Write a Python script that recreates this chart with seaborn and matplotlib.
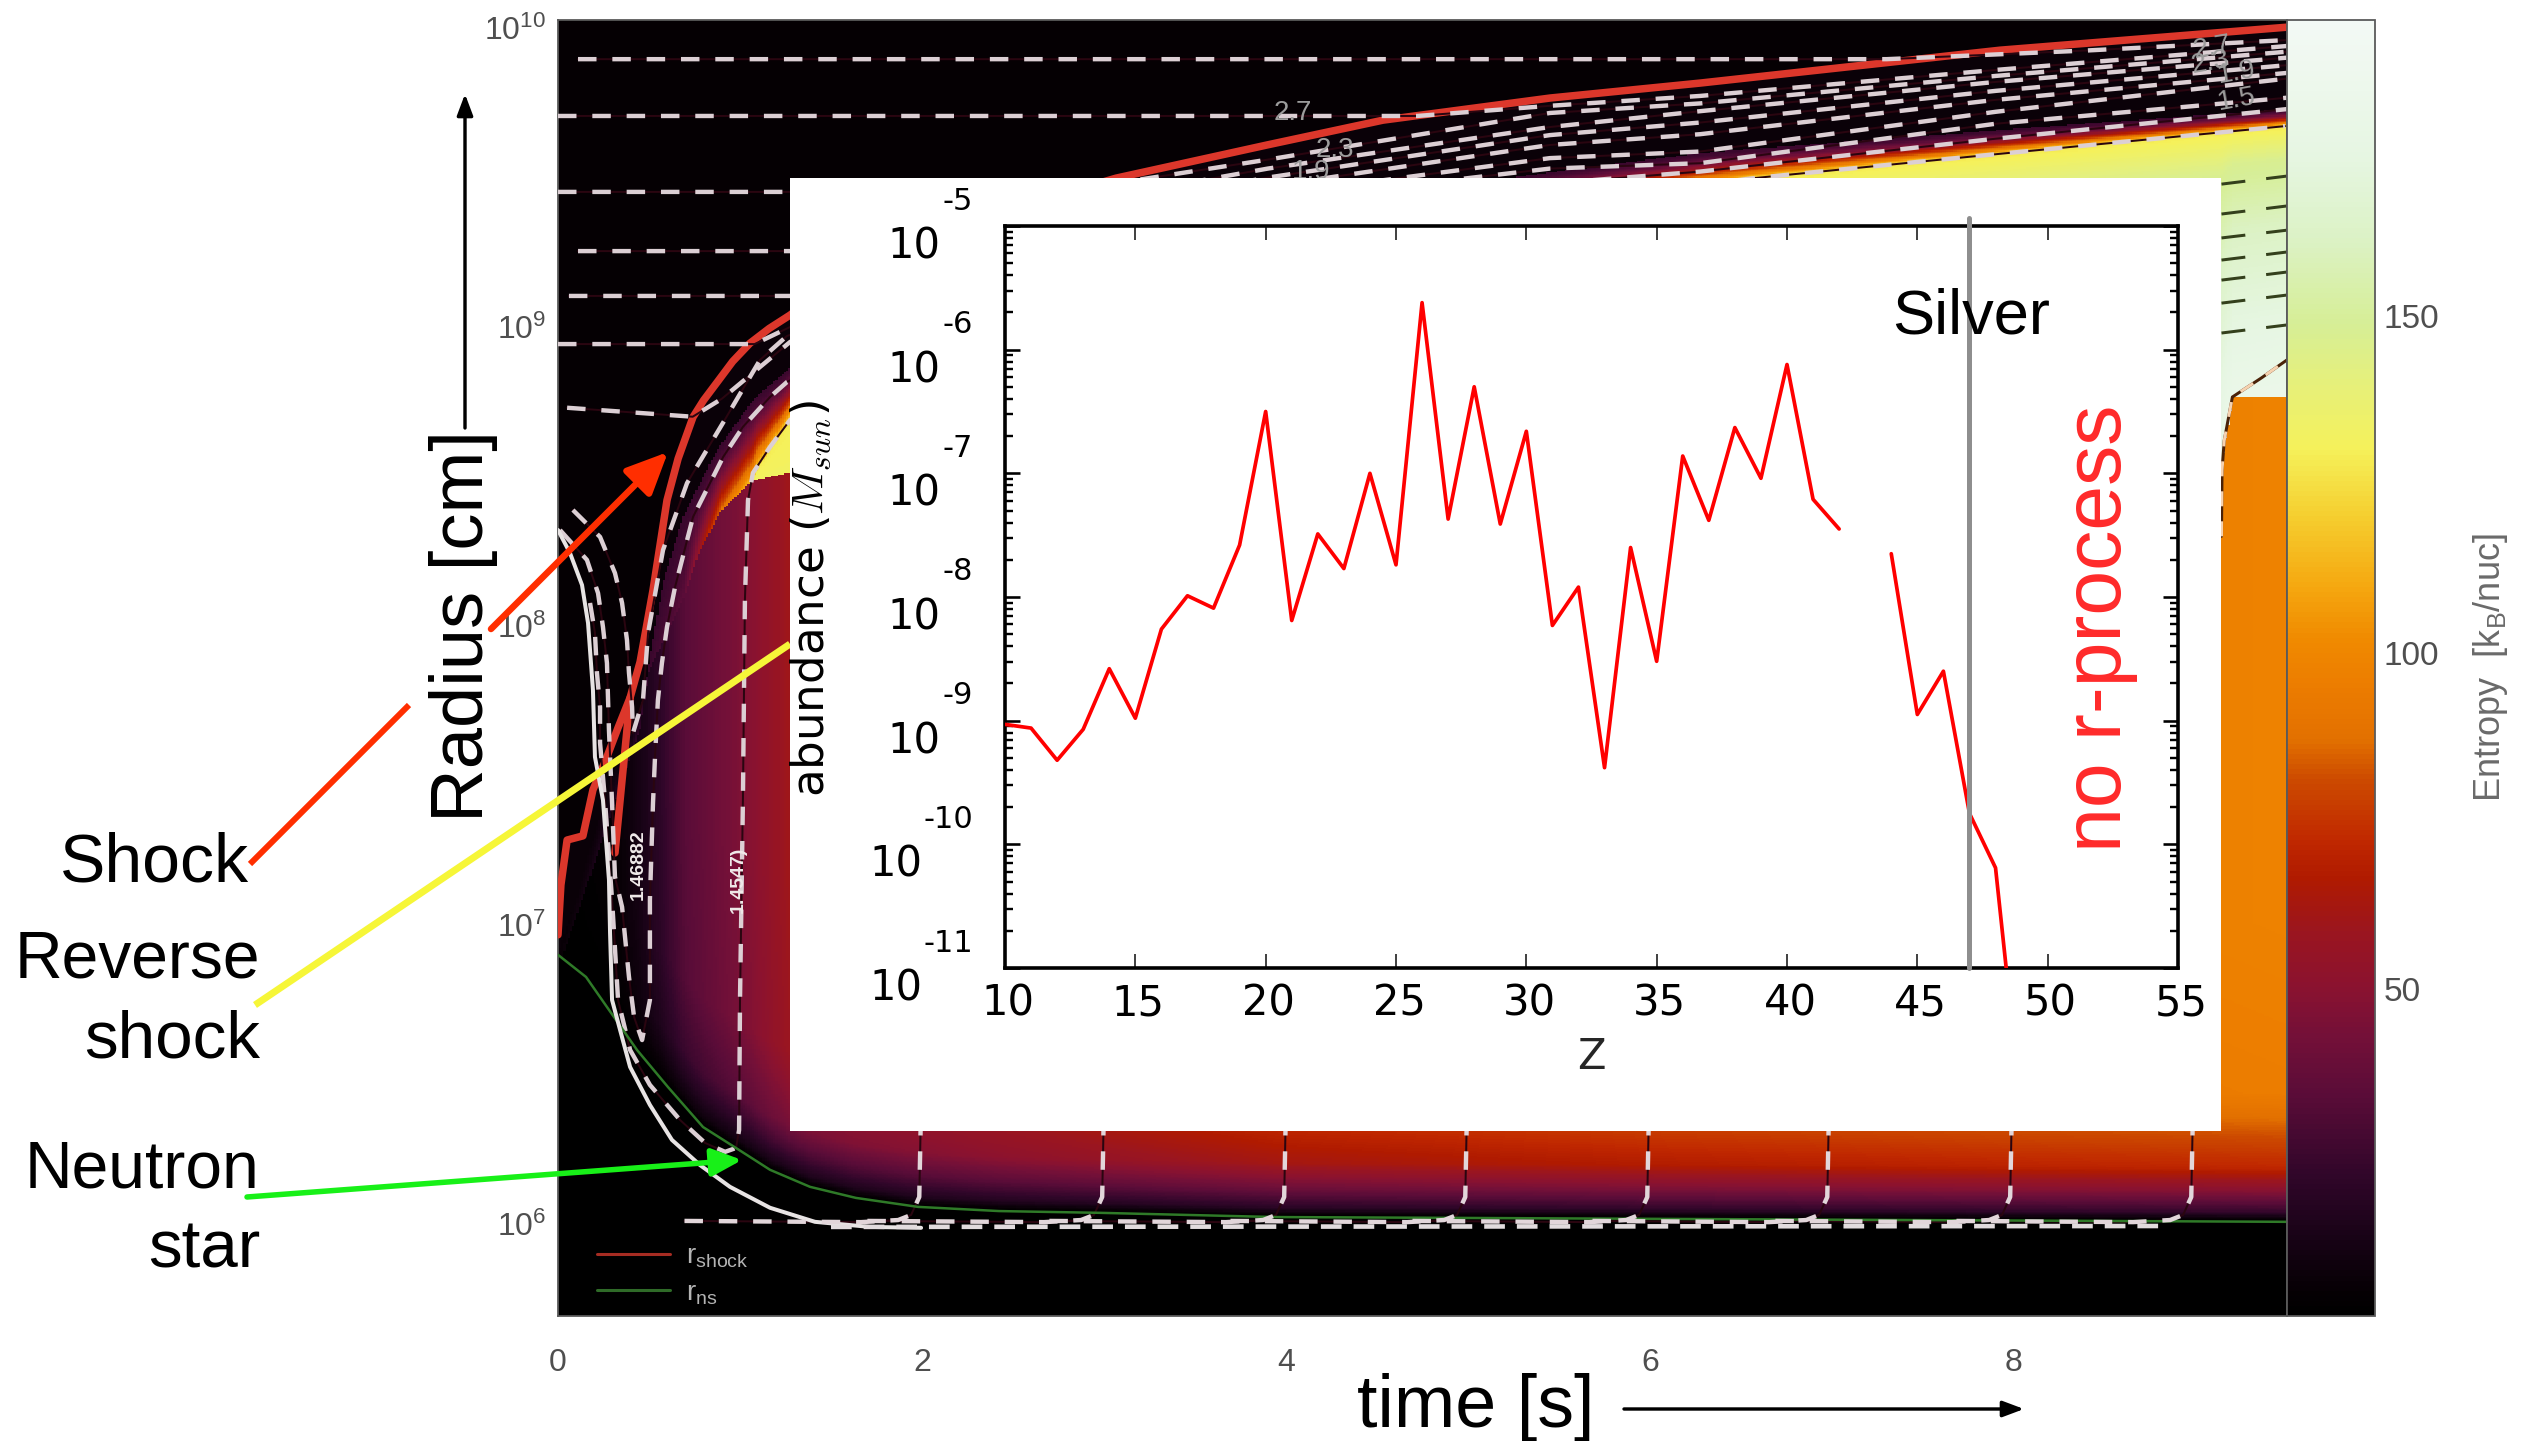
import numpy as np
import pandas as pd
import matplotlib
matplotlib.use("Agg")
import matplotlib.pyplot as plt
import seaborn as sns
from matplotlib.colors import LinearSegmentedColormap
from matplotlib.lines import Line2D
from matplotlib.ticker import LogLocator, MultipleLocator, NullFormatter, FixedLocator
from matplotlib.transforms import ScaledTranslation

# ---------- inset: abundance vs Z ----------
Z_LOW = [10, 11, 12, 13, 14, 15, 16, 17, 18, 19, 20, 21, 22, 23, 24, 25, 26, 27, 28, 29,
         30, 31, 32, 33, 34, 35, 36, 37, 38, 39, 40, 41, 42]
LOG_ABUND_LOW = [-9.03, -9.06, -9.32, -9.07, -8.58, -8.98, -8.26, -7.99, -8.09, -7.58, -6.5,
                 -8.19, -7.49, -7.77, -7.0, -7.74, -5.62, -7.37, -6.3, -7.41, -6.66,
                 -8.23, -7.92, -9.38, -7.6, -8.52, -6.86, -7.38, -6.63, -7.04, -6.12, -7.21, -7.45]
Z_HIGH = [44, 45, 46, 47, 48, 49]
LOG_ABUND_HIGH = [-7.65, -8.95, -8.6, -9.75, -10.19, -12.17]
Z_TICKS = [10, 15, 20, 25, 30, 35, 40, 45, 50, 55]
ABUND_EXP = [-5, -6, -7, -8, -9, -10, -11]
SILVER_Z = 47

# ---------- main panel: curves, time in s and log10 radius ----------
SHOCK_T = [0, .016, .05, .137, .192, .258, .33, .396, .451, .522, .599, .66, .742, .80, .874, .96, 1.055,
           1.16, 1.275, 1.6, 1.995, 3.066, 3.896, 4.533, 5.451, 6.275, 7.923, 9.5]
SHOCK_L = [6.967, 7.134, 7.284, 7.298, 7.452, 7.545, 7.66, 7.76, 7.88, 8.12, 8.421, 8.56, 8.699, 8.755, 8.815,
           8.885, 8.946, 8.995, 9.04, 9.19, 9.308, 9.498, 9.609, 9.692, 9.766, 9.816, 9.926, 10.003]
BRANCH_T = [.313, .396]
BRANCH_L = [7.241, 7.76]
NS_T = [0, .154, .28, .434, .604, .797, .978, 1.165, 1.385, 1.637, 1.978, 2.423, 2.984, 3.94, 9.5]
NS_L = [6.9, 6.826, 6.716, 6.582, 6.458, 6.324, 6.254, 6.181, 6.124, 6.087, 6.057, 6.043, 6.037, 6.023, 6.007]
WHITE_T = [0, .066, .132, .165, .192, .203, .247, .28, .286, .297, .341, .396, .505, .626, .78, .945,
           1.165, 1.412, 1.714, 1.995]
WHITE_L = [8.321, 8.244, 8.137, 8.01, 7.786, 7.562, 7.418, 7.151, 6.973, 6.749, 6.649, 6.525, 6.398,
           6.281, 6.197, 6.124, 6.054, 6.007, 5.99, 5.987]
# inner edge of the dark post-shock layer
EDGE_T = [0, .2, .3, .45, .577, .687, .874, 1.071, 1.275, 1.995, 4.08, 6.275, 7.92, 9.5]
EDGE_L = [6.9, 7.3, 7.5, 7.7, 8.144, 8.365, 8.589, 8.756, 8.863, 9.09, 9.408, 9.582, 9.659, 9.729]
# top of the hot bubble
TOP_T = [0, .45, .5, .6, .687, .78, .9, 1.071, 1.093, 1.275, 1.995, 4.08, 6.571, 7.747, 9.5]
TOP_L = [6.85, 7.65, 7.85, 7.98, 8.087, 8.254, 8.388, 8.488, 8.52, 8.69, 8.99, 9.31, 9.498, 9.569, 9.672]
# reverse shock
REV_T = [0, .45, .5, .6, .687, .78, .9, 1.071, 1.275, 9.14, 9.203, 9.5]
REV_L = [6.85, 7.65, 7.85, 7.98, 8.087, 8.254, 8.388, 8.488, 8.512, 8.52, 8.766, 8.766]
# entropy levels
INNER_T = [0, .3, .45, .55, .7, 1, 1.27, 1.6, 2, 3, 4, 6, 8, 9.5]
INNER_S = [2, 4, 12, 20, 34, 46, 60, 64, 66, 76, 85, 92, 96, 98]
HEIGHT_H = [0, .033, .1, .18, .43, 1]
HEIGHT_G = [0, .24, .49, .73, .97, 1]
EDGE_S_T = [0, .4, .5]
EDGE_S = [6, 10, 25]
CAP_T = [0, .5, .69, .78, .9, 1.07, 1.09]
CAP_S = [6, 25, 35, 60, 90, 118, 125]
BUBBLE_FRAC = [0, .12, .37, .76, 1]
BUBBLE_T = [1.3, 6, 9.5]
BUBBLE_PEAK = [132, 168, 182]
BUBBLE_SHAPE = [0, .35, .62, .88, 1]
BUBBLE_BASE_S = 128
ABOVE_SHOCK_S = 5
DARK_LAYER_S = 7
ENTROPY_MIN, ENTROPY_MAX = 1.5, 194

# mass shells
SHELLS = [
    ([.11, 7.3, 8.4, 9.5], [9.896, 9.896, 9.925, 9.96]),
    ([0, 4.72, 5.45, 6.275, 7.9, 9.5], [9.706, 9.706, 9.74, 9.773, 9.86, 9.94]),
    ([0, 2.76, 3.9, 5.45, 6.275, 7.9, 9.5], [9.452, 9.452, 9.56, 9.716, 9.748, 9.84, 9.921]),
    ([.11, 1.9, 3.07, 3.9, 5.45, 6.275, 7.9, 9.5], [9.254, 9.254, 9.44, 9.53, 9.669, 9.722, 9.82, 9.901]),
    ([.06, 1.5, 2, 3.07, 3.9, 5.45, 6.275, 7.9, 9.5], [9.104, 9.104, 9.24, 9.41, 9.5, 9.642, 9.684, 9.79, 9.876]),
    ([0, 1.08, 1.275, 2, 3.07, 3.9, 5.45, 6.275, 7.9, 9.5], [8.943, 8.943, 9.0, 9.2, 9.38, 9.47, 9.609, 9.645, 9.76, 9.85]),
    ([.05, .74, .9, 1.275, 2, 3.07, 3.9, 5.45, 6.275, 7.9, 9.5], [8.73, 8.70, 8.76, 8.95, 9.17, 9.36, 9.44, 9.565, 9.587, 9.72, 9.831]),
    ([.082, .231, .313, .352, .379, .39, .407, .412, .467, .495, .577, .709, .907, 1.11, 1.258, 2, 3.07, 3.9, 5.45, 6.275, 7.9, 9.5],
     [8.388, 8.298, 8.177, 8.077, 7.953, 7.843, 7.729, 7.642, 7.753, 7.977, 8.254, 8.478, 8.68, 8.89, 8.97, 9.13, 9.33, 9.42, 9.53, 9.548, 9.68, 9.767]),
    ([.011, .159, .22, .247, .269, .28, .297, .313, .352, .39, .418, .462, .505, .505, .522, .533, .549, .571, .599, .643, .742, .907, 1.016, 1.165, 1.258, 2, 3.07, 3.9, 5.45, 6.275, 7.9, 9.5],
     [8.321, 8.221, 8.11, 7.997, 7.876, 7.652, 7.408, 7.161, 7.06, 6.826, 6.692, 6.615, 6.749, 7.084, 7.408, 7.562, 7.753, 7.876, 7.997, 8.13, 8.365, 8.565, 8.666, 8.766, 8.816, 9.06, 9.28, 9.37, 9.48, 9.52, 9.63, 9.729]),
    ([.176, .203, .214, .231, .231, .258, .297, .33, .396, .505, .67, .808, .918, .978, .995, 1.0, 1.016, 1.027, 1.044, 1.071, 1.165, 1.275, 1.995, 4.08, 6.571, 7.747, 9.489],
     [8.077, 7.977, 7.843, 7.729, 7.609, 7.418, 7.084, 6.749, 6.582, 6.465, 6.348, 6.271, 6.241, 6.254, 6.314, 6.749, 7.418, 8.087, 8.421, 8.512, 8.599, 8.689, 8.99, 9.31, 9.498, 9.569, 9.672]),
]
RISE_TIMES = [1.995, 3.0, 4.0, 4.995, 5.995, 6.984, 7.989, 8.984]
RISE_DT = [-1.3, -.33, -.126, -.055, -.01, 0]
RISE_L = [6.01, 6.006, 6.013, 6.03, 6.09, 6.4]
SURFACE_T = [1.5, 8.8]
SURFACE_L = [5.99, 5.993]
WIND_T = [9.14, 9.5]
WIND_LINES = [[9.478, 9.505], [9.378, 9.405], [9.298, 9.324], [9.224, 9.251],
              [9.157, 9.184], [9.08, 9.107], [8.98, 9.007]]
EDGE_SHELL_T = [9.14, 9.143, 9.155, 9.2, 9.36, 9.5]
EDGE_SHELL_L = [8.3, 8.52, 8.62, 8.766, 8.83, 8.89]
CONTOUR_LABELS = [("2.7", 4.04, 9.716, 0), ("2.3", 4.27, 9.592, 0), ("1.9", 4.14, 9.518, 0),
                  ("2.7", 9.09, 9.933, 10), ("2.3", 9.08, 9.883, 10), ("1.9", 9.225, 9.85, 10), ("1.5", 9.225, 9.76, 10)]
SHELL_LABELS = [("1.46882", .44, 7.2), ("1.4547)", .989, 7.15)]
TIME_TICKS = [0, 2, 4, 6, 8]
RADIUS_EXP = [6, 7, 8, 9, 10]
ENTROPY_TICKS = [50, 100, 150]

CMAP_S = [1.5, 5, 13.6, 22.5, 34, 43, 50, 58, 66.5, 72, 81, 87, 94.8, 102, 110, 120.6, 130.4, 140, 149, 162, 174, 194]
CMAP_C = ["#000000", "#060004", "#1a0318", "#32062a", "#5a0c38", "#741038", "#8a1230", "#9a1520",
          "#b01a00", "#c02800", "#cc4a00", "#e27000", "#ec7c00", "#f08a00", "#f5a810", "#f5cf30",
          "#f5f15a", "#e6f07a", "#d6ee96", "#dcf2c6", "#e6f6e2", "#f3f9f5"]

W, H = 2542, 1441
DPI = 100
PX = 72 / DPI


def axes_px(fig, left, top, right, bottom, **kw):
    return fig.add_axes([left / W, 1 - bottom / H, (right - left) / W, (bottom - top) / H], **kw)


sns.set_theme(style="white")
plt.rcParams["font.family"] = ["Liberation Sans", "DejaVu Sans"]
plt.rcParams["axes.unicode_minus"] = False

fig = plt.figure(figsize=(W / DPI, H / DPI), dpi=DPI, facecolor="white")

# ---------- main panel ----------
ax = axes_px(fig, 558, 20, 2287, 1316)
ax.set_zorder(1)
ax.set_yscale("log")

tg = np.linspace(0, 9.5, 800)
lg = np.linspace(5.692, 10.027, 1000)
T, LL = np.meshgrid(tg, lg)
ns = np.interp(T, NS_T, NS_L)
shock = np.interp(T, SHOCK_T, SHOCK_L)
edge = np.interp(T, EDGE_T, EDGE_L)
top = np.interp(T, TOP_T, TOP_L)
rev = np.interp(T, REV_T, REV_L)

S = np.full(T.shape, float(ABOVE_SHOCK_S))
S[LL < shock] = DARK_LAYER_S
frac = np.clip((edge - LL) / np.maximum(edge - top, 1e-3), 0, 1)
edge_s = np.interp(T, EDGE_S_T, EDGE_S)
ramp = edge_s + (np.interp(T, CAP_T, CAP_S) - edge_s) * frac ** 1.6
S = np.where(LL < edge, ramp, S)
f = np.clip((top - LL) / np.maximum(top - rev, 1e-3), 0, 1)
bubble = BUBBLE_BASE_S + (np.interp(T, BUBBLE_T, BUBBLE_PEAK) - BUBBLE_BASE_S) * np.interp(f, BUBBLE_FRAC, BUBBLE_SHAPE)
S = np.where(LL < top, bubble, S)
inner = np.interp(T, INNER_T, INNER_S) * np.interp(LL - ns, HEIGHT_H, HEIGHT_G)
S = np.where(LL < rev, inner, S)
S = np.where(LL < ns, 0.0, S)
S = np.where(LL < edge, S, np.where(LL < shock, DARK_LAYER_S, ABOVE_SHOCK_S))

stops = [(v - ENTROPY_MIN) / (ENTROPY_MAX - ENTROPY_MIN) for v in CMAP_S]
cmap = LinearSegmentedColormap.from_list("entropy", list(zip(stops, CMAP_C)))
mesh = ax.pcolormesh(tg, 10 ** lg, S, cmap=cmap, vmin=ENTROPY_MIN, vmax=ENTROPY_MAX,
                     shading="auto", rasterized=True)


def curve(axis, t, L, color, lw_px, style="-", z=3):
    sns.lineplot(x=np.asarray(t), y=10 ** np.asarray(L, float), ax=axis, color=color, linewidth=lw_px * PX,
                 sort=False, estimator=None, errorbar=None, linestyle=style, legend=False, zorder=z)


DASH = (0, (4.2, 3.6))
SHELL_LW = 4.4
curve(ax, SHOCK_T, SHOCK_L, "#dc372b", 7.5)
curve(ax, BRANCH_T, BRANCH_L, "#dc372b", 7.5)
curve(ax, NS_T, NS_L, "#2f7a28", 2.5, z=5)
curve(ax, WHITE_T, WHITE_L, "#e8e4e4", 4, z=5)
for st, sl in SHELLS:
    curve(ax, st, sl, "#2a0510", 2, z=3.5)
    curve(ax, st, sl, "#dccfd4", SHELL_LW, style=DASH, z=4)
curve(ax, SURFACE_T, SURFACE_L, "#e2dcde", 4.6, style=(0, (4.5, 2.6)), z=5.5)
for tr in RISE_TIMES:
    rt = [tr + d for d in RISE_DT]
    curve(ax, rt, RISE_L, "#2a0510", 2, z=3.5)
    curve(ax, rt, RISE_L, "#e2d6da", SHELL_LW, style=DASH, z=5.5)
for wl in WIND_LINES:
    curve(ax, WIND_T, wl, "#34401c", 3, style=(0, (8, 7)), z=4)
curve(ax, EDGE_SHELL_T, EDGE_SHELL_L, "#4a2208", 3, z=3.5)
curve(ax, EDGE_SHELL_T, EDGE_SHELL_L, "#f6d2b0", 3, style=(0, (5, 5)), z=4)

for txt, t, L, rot in CONTOUR_LABELS:
    ax.text(t, 10 ** L, txt, color="#9c9c9c", fontsize=20, ha="center", va="center", rotation=rot, zorder=6)
for txt, t, L in SHELL_LABELS:
    ax.text(t, 10 ** L, txt, color="#f0eaea", fontsize=14, ha="center", va="center", rotation=90,
            fontweight="bold", zorder=6)

ax.set_xlim(0, 9.5)
ax.set_ylim(10 ** 5.692, 10 ** 10.027)
ax.set_xticks(TIME_TICKS)
ax.set_xticklabels([str(v) for v in TIME_TICKS])
ax.yaxis.set_major_locator(FixedLocator([10.0 ** e for e in RADIUS_EXP]))
ax.set_yticklabels([rf"$\mathdefault{{10^{{{e}}}}}$" for e in RADIUS_EXP])
ax.yaxis.set_minor_locator(LogLocator(base=10, subs=np.arange(2, 10), numticks=20))
ax.yaxis.set_minor_formatter(NullFormatter())
ax.tick_params(axis="x", which="both", bottom=False, top=False, labelsize=23, labelcolor="#4f4f4f", pad=17)
ax.tick_params(axis="y", which="major", left=False, right=True, direction="in", length=45 * PX, width=2.6 * PX,
               color="#3b2410", labelsize=23, labelcolor="#4f4f4f", pad=8.5)
ax.tick_params(axis="y", which="minor", left=False, right=True, direction="in", length=22 * PX, width=2.6 * PX,
               color="#3b2410")
ax.set_xlabel("")
ax.set_ylabel("")
for sp in ax.spines.values():
    sp.set_color("#5a5a5a")
    sp.set_linewidth(1.3)
ax.legend(handles=[Line2D([], [], color="#a62c22", lw=2.2, label=r"$\mathdefault{r_{shock}}$"),
                   Line2D([], [], color="#2f6b28", lw=2.2, label=r"$\mathdefault{r_{ns}}$")],
          loc="lower left", bbox_to_anchor=(0.008, -0.012), frameon=False, labelcolor="#b4b4b4", fontsize=20,
          handlelength=2.65, labelspacing=0.35, handletextpad=0.55)

# ---------- colour bar ----------
cax = axes_px(fig, 2287, 20, 2375, 1316)
cax.set_zorder(1)
cb = fig.colorbar(mesh, cax=cax, ticks=ENTROPY_TICKS)
cb.ax.yaxis.set_minor_locator(MultipleLocator(10))
cb.ax.tick_params(which="major", direction="in", length=17 * PX, width=2 * PX, color="#3a2a20",
                  labelsize=24, labelcolor="#4f4f4f", pad=6)
cb.ax.tick_params(which="minor", direction="in", length=10 * PX, width=2 * PX, color="#3a2a20")
cb.outline.set_edgecolor("#5a5a5a")
cb.outline.set_linewidth(1.3)
fig.text(2491 / W, 1 - 668 / H, r"Entropy  [k$_\mathdefault{B}$/nuc]", rotation=90, ha="center", va="center",
         fontsize=26, color="#6a6a6a")

# ---------- pointer that passes under the inset ----------
under = axes_px(fig, 0, 0, W, H)
under.set_zorder(2)
under.set_xlim(0, W)
under.set_ylim(H, 0)
under.axis("off")
under.patch.set_alpha(0)
under.plot([255, 790], [1005, 644], color="#f6f638", lw=7 * PX, solid_capstyle="butt")

# ---------- inset ----------
panel = axes_px(fig, 790, 178, 2221, 1131, facecolor="white")
panel.set_zorder(3)
panel.set_xticks([])
panel.set_yticks([])
for sp in panel.spines.values():
    sp.set_visible(False)

ins = axes_px(fig, 1005, 226, 2178, 968, facecolor="white")
ins.set_zorder(4)
ins.set_yscale("log")
for zs, vals in ((Z_LOW, LOG_ABUND_LOW), (Z_HIGH, LOG_ABUND_HIGH)):
    curve(ins, zs, vals, "#ff0000", 3.7)
ins.axvline(SILVER_Z, ymin=0, ymax=1.011, color="#8e8e8e", lw=5 * PX, clip_on=False, zorder=6)
ins.set_xlim(10, 55)
ins.set_ylim(1e-11, 1e-5)
ins.set_xticks(Z_TICKS)
ins.set_xticklabels([str(v) for v in Z_TICKS], family="DejaVu Sans")
ins.yaxis.set_major_locator(FixedLocator([10.0 ** e for e in ABUND_EXP]))
ins.set_yticklabels(["10"] * len(ABUND_EXP), family="DejaVu Sans")
ins.yaxis.set_minor_locator(LogLocator(base=10, subs=np.arange(2, 10), numticks=20))
ins.yaxis.set_minor_formatter(NullFormatter())
ins.tick_params(axis="x", which="major", top=True, bottom=True, direction="in", length=14 * PX, width=2 * PX,
                color="#444444", labelsize=30, labelcolor="black", pad=10.5)
ins.tick_params(axis="y", which="major", left=True, right=True, direction="in", length=15 * PX, width=2.6 * PX,
                color="black", labelsize=30, labelcolor="black", pad=0)
ins.tick_params(axis="y", which="minor", left=True, right=True, direction="in", length=8 * PX, width=2.4 * PX,
                color="black")
for lbl in ins.get_xticklabels():
    lbl.set_transform(lbl.get_transform() + ScaledTranslation(3 / DPI, 0, fig.dpi_scale_trans))
for lbl, e in zip(ins.get_yticklabels(), ABUND_EXP):
    dx = -83 if e <= -10 else -65
    lbl.set_transform(lbl.get_transform() + ScaledTranslation(dx / DPI, -16 / DPI, fig.dpi_scale_trans))
    ins.annotate(str(e), xy=(0, 10.0 ** e), xycoords=ins.get_yaxis_transform(), xytext=(-32 * PX, 25 * PX),
                 textcoords="offset points", ha="right", va="center", fontsize=22, family="DejaVu Sans", color="black")
for sp in ins.spines.values():
    sp.set_color("black")
    sp.set_linewidth(3.6 * PX)
ins.set_xlabel("Z", fontsize=30, family="DejaVu Sans", labelpad=8)
ins.set_ylabel("")
fig.text(811 / W, 1 - 598 / H, r"abundance ($M_{sun}$)", rotation=90, ha="center", va="center", fontsize=32.5,
         family="DejaVu Sans", math_fontfamily="cm", zorder=6, color="black")

# ---------- overlay ----------
over = axes_px(fig, 0, 0, W, H)
over.set_zorder(5)
over.set_xlim(0, W)
over.set_ylim(H, 0)
over.axis("off")
over.patch.set_alpha(0)

RED = "#ff2e00"
over.plot([250, 409], [864, 705], color=RED, lw=6 * PX, solid_capstyle="butt")
over.annotate("", xy=(668, 452), xytext=(491, 629),
              arrowprops=dict(arrowstyle="-|>,head_length=0.7,head_width=0.32", color=RED, lw=6.5 * PX,
                              mutation_scale=36, shrinkA=0, shrinkB=0))
over.annotate("", xy=(742, 1160), xytext=(247, 1197),
              arrowprops=dict(arrowstyle="-|>,head_length=0.7,head_width=0.32", color="#18f018", lw=5.5 * PX,
                              mutation_scale=26, shrinkA=0, shrinkB=0))
over.annotate("", xy=(465, 94), xytext=(465, 428),
              arrowprops=dict(arrowstyle="-|>,head_length=0.8,head_width=0.3", color="black", lw=3.4 * PX,
                              mutation_scale=16, shrinkA=0, shrinkB=0))
over.annotate("", xy=(2024, 1409), xytext=(1624, 1409),
              arrowprops=dict(arrowstyle="-|>,head_length=0.8,head_width=0.3", color="black", lw=3.4 * PX,
                              mutation_scale=16, shrinkA=0, shrinkB=0))

for txt, x, y, size in (("Shock", 249, 882, 49), ("Reverse", 260, 978, 47.5), ("shock", 260, 1058, 48.5),
                        ("Neutron", 259, 1188, 47.5), ("star", 260, 1268, 48.5)):
    over.text(x, y, txt, fontsize=size, ha="right", va="baseline", color="black")
over.text(1476, 1427, "time [s]", fontsize=53, ha="center", va="baseline", color="black")
over.text(464, 626, "Radius [cm]", fontsize=53.5, rotation=90, ha="center", va="center", color="black")
over.text(1971, 333, "Silver", fontsize=45.5, ha="center", va="baseline", color="black")
over.text(2100, 628, "no r-process", fontsize=58, rotation=90, ha="center", va="center", color="#ff2a2a")

fig.savefig("out.png", dpi=DPI)
